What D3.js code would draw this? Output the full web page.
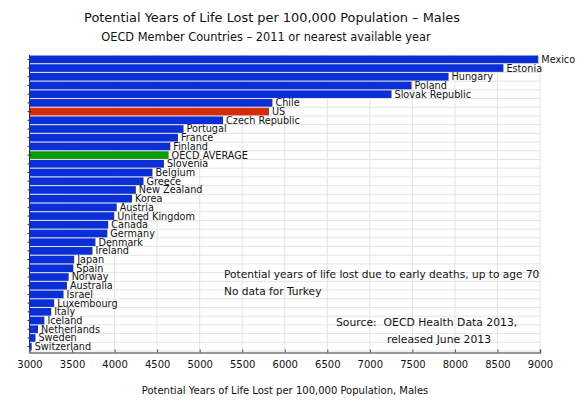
<!DOCTYPE html>
<html>
<head>
<meta charset="utf-8">
<script src="https://cdn.jsdelivr.net/npm/d3@7"></script>
<style>
  body { margin: 0; background: #fff; }
  text { font-family: "DejaVu Sans", sans-serif; fill: #111; white-space: pre; }
</style>
</head>
<body>
<div id="chart"></div>
<script>
// Data
const countries = ["Mexico", "Estonia", "Hungary", "Poland", "Slovak Republic", "Chile", "US",
  "Czech Republic", "Portugal", "France", "Finland", "OECD AVERAGE", "Slovenia", "Belgium",
  "Greece", "New Zealand", "Korea", "Austria", "United Kingdom", "Canada", "Germany", "Denmark",
  "Ireland", "Japan", "Spain", "Norway", "Australia", "Israel", "Luxembourg", "Italy", "Iceland",
  "Netherlands", "Sweden", "Switzerland"];
const values = [8980, 8570, 7925, 7490, 7255, 5855, 5815, 5275, 4810, 4745, 4655, 4635, 4580,
  4445, 4340, 4250, 4205, 4025, 3995, 3925, 3915, 3775, 3740, 3525, 3515, 3460, 3440, 3400,
  3290, 3255, 3175, 3100, 3070, 3025];
const xTicks = [3000, 3500, 4000, 4500, 5000, 5500, 6000, 6500, 7000, 7500, 8000, 8500, 9000];
const notes = ["Potential years of life lost due to early deaths, up to age 70", "No data for Turkey"];
const source = ["Source:  OECD Health Data 2013,", "released June 2013"];

const width = 584, height = 401;
const svg = d3.select("#chart").append("svg")
  .attr("width", width)
  .attr("height", height);

const x = d3.scaleLinear().domain([3000, 9000]).range([29.5, 540]);
const y = d3.scaleBand().domain(countries).range([55, 351]).paddingInner(0.12).paddingOuter(0.06);
const axisY = 352.5;

const colorOf = d => d === "US" ? "#d52b0b" : d === "OECD AVERAGE" ? "#0c9b0c" : "#0b2fd6";

// grid
const grid = svg.append("g");
grid.selectAll("line.v").data(xTicks.slice(1)).enter().append("line")
  .attr("x1", d => x(d)).attr("x2", d => x(d))
  .attr("y1", 55).attr("y2", axisY)
  .attr("stroke", "#e4e4e4").attr("stroke-width", 1);
const step = y.step();
grid.selectAll("line.h").data(d3.range(countries.length)).enter().append("line")
  .attr("x1", x(3000)).attr("x2", x(9000))
  .attr("y1", i => 55 + (i + 1) * step).attr("y2", i => 55 + (i + 1) * step)
  .attr("stroke", "#e4e4e4").attr("stroke-width", 1);

// bars
svg.append("g").selectAll("rect").data(countries).enter().append("rect")
  .attr("x", x(3000))
  .attr("y", d => y(d))
  .attr("width", (d, i) => x(values[i]) - x(3000))
  .attr("height", y.bandwidth())
  .attr("fill", colorOf);

// bar labels
svg.append("g").selectAll("text").data(countries).enter().append("text")
  .attr("x", (d, i) => x(values[i]) + 3)
  .attr("y", d => y(d) + y.bandwidth() / 2)
  .attr("dy", "0.36em")
  .attr("font-size", "9.7px")
  .text(d => d);

// left axis
const yAxis = svg.append("g").attr("transform", `translate(${x(3000)},0)`)
  .call(d3.axisLeft(y).tickSize(3).tickFormat(""));
yAxis.select(".domain").attr("stroke", "#333").attr("d", `M0,55V${axisY}`);
yAxis.selectAll(".tick line").attr("stroke", "#333").attr("x2", -2).attr("x1", 2);

// bottom axis
const xAxis = svg.append("g").attr("transform", `translate(0,${axisY})`)
  .call(d3.axisBottom(x).tickValues(xTicks).tickSize(-3).tickPadding(8).tickFormat(d3.format("d")));
xAxis.select(".domain").attr("stroke", "#777").attr("stroke-width", 1.5);
xAxis.selectAll(".tick line").attr("stroke", "#555");
xAxis.selectAll(".tick text").attr("font-size", "10px").attr("font-family", "DejaVu Sans").attr("fill", "#111");

// titles
svg.append("text").attr("x", 272).attr("y", 22).attr("text-anchor", "middle")
  .attr("font-size", "12.9px").text("Potential Years of Life Lost per 100,000 Population – Males");
svg.append("text").attr("x", 266).attr("y", 41).attr("text-anchor", "middle")
  .attr("font-size", "11.4px").text("OECD Member Countries – 2011 or nearest available year");
svg.append("text").attr("x", 285).attr("y", 394).attr("text-anchor", "middle")
  .attr("font-size", "10px").text("Potential Years of Life Lost per 100,000 Population, Males");

// notes
svg.append("g").selectAll("text").data(notes).enter().append("text")
  .attr("x", 224).attr("y", (d, i) => 278 + i * 17)
  .attr("font-size", "10.6px").text(d => d);
svg.append("text").attr("x", 336).attr("y", 326).attr("font-size", "10.8px").text(source[0]);
svg.append("text").attr("x", 387).attr("y", 343).attr("font-size", "10.8px").text(source[1]);
</script>
</body>
</html>
